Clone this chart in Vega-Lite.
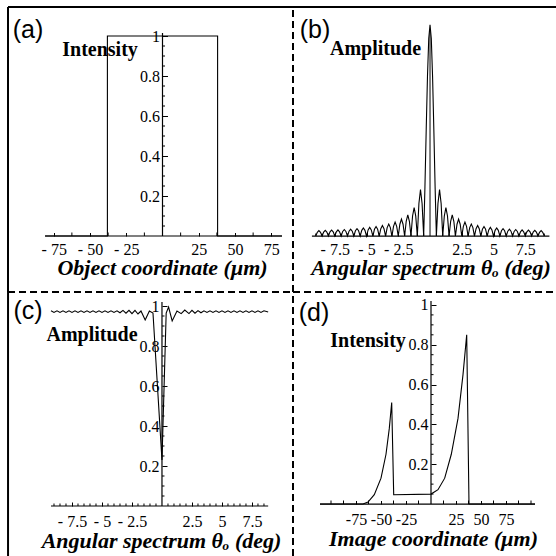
{
  "$schema": "https://vega.github.io/schema/vega-lite/v6.json",
  "padding": 0,
  "background": "white",
  "bounds": "flush",
  "spacing": 0,
  "columns": 2,
  "config": {
    "view": {"stroke": null},
    "concat": {"spacing": 0},
    "line": {"color": "black", "strokeWidth": 1.1},
    "rule": {"color": "black", "strokeWidth": 1.2},
    "tick": {"color": "black", "opacity": 1, "thickness": 1},
    "text": {"color": "black"},
    "axis": {
      "grid": false, "domain": false,
      "labelFont": "Liberation Serif", "labelFontSize": 16, "labelColor": "black",
      "labelFlush": false, "labelOverlap": false, "labelBound": false,
      "tickColor": "black", "tickWidth": 1,
      "titleFont": "Liberation Serif", "titleFontSize": 22, "titleFontWeight": "bold",
      "titleFontStyle": "italic", "titleColor": "black"
    }
  },
  "concat": [
    {
      "width": 293, "height": 292,
      "layer": [
        {
          "data": {"values": [
            {"i": 0, "x": -81, "y": 0}, {"i": 1, "x": -38, "y": 0}, {"i": 2, "x": -38, "y": 1},
            {"i": 3, "x": 38, "y": 1}, {"i": 4, "x": 38, "y": 0}, {"i": 5, "x": 82.4, "y": 0}
          ]},
          "mark": {"type": "line"},
          "encoding": {
            "order": {"field": "i", "type": "quantitative"},
            "x": {"field": "x", "type": "quantitative",
              "scale": {"domain": [-112.07, 90], "nice": false, "zero": false},
              "axis": {"values": [-75, -50, -25, 25, 50, 75],
                "labelExpr": "datum.value < 0 ? '- ' + (-datum.value) : '' + datum.value",
                "labelOverlap": false,
                "offset": -56, "tickSize": -3.5, "labelPadding": 8.5,
                "title": "Object coordinate (μm)", "titleX": 162, "titlePadding": 0}},
            "y": {"field": "y", "type": "quantitative",
              "scale": {"domain": [-0.28, 1.18], "nice": false, "zero": false},
              "axis": {"values": [0.2, 0.4, 0.6, 0.8, 1],
                "labelExpr": "datum.value == 1 ? '1' : format(datum.value, '.1f')",
                "labelOverlap": false,
                "offset": -162.5, "tickSize": -5, "labelPadding": 8, "title": null}}
          }
        },
        {"data": {"values": [{"v": -62.5}, {"v": -37.5}, {"v": -12.5}, {"v": 12.5}, {"v": 37.5}, {"v": 62.5}]},
          "mark": {"type": "tick", "orient": "vertical", "size": 3.5, "yOffset": -1.75},
          "encoding": {"x": {"field": "v", "type": "quantitative"}, "y": {"datum": 0}}},
        {"data": {"values": [{"v": 0.05}, {"v": 0.1}, {"v": 0.15}, {"v": 0.25}, {"v": 0.3}, {"v": 0.35}, {"v": 0.45}, {"v": 0.5}, {"v": 0.55}, {"v": 0.65}, {"v": 0.7}, {"v": 0.75}, {"v": 0.85}, {"v": 0.9}, {"v": 0.95}]},
          "mark": {"type": "tick", "orient": "horizontal", "size": 2.5, "xOffset": 1.25},
          "encoding": {"y": {"field": "v", "type": "quantitative"}, "x": {"datum": 0}}},
        {"data": {"values": [{}]}, "mark": {"type": "rule"},
          "encoding": {"y": {"datum": 0}, "x": {"datum": -81}, "x2": {"datum": 82.4}}},
        {"data": {"values": [{}]}, "mark": {"type": "rule"},
          "encoding": {"x": {"datum": 0}, "y": {"datum": 0}, "y2": {"datum": 1.015}}},
        {"data": {"values": [{}]}, "mark": {"type": "text", "font": "Liberation Sans", "fontSize": 25},
          "encoding": {"x": {"datum": -92.76}, "y": {"datum": 1.03}, "text": {"value": "(a)"}}},
        {"data": {"values": [{}]}, "mark": {"type": "text", "font": "Liberation Serif", "fontSize": 20, "fontWeight": "bold"},
          "encoding": {"x": {"datum": -43.1}, "y": {"datum": 0.93}, "text": {"value": "Intensity"}}},
        {"data": {"values": [{}]}, "mark": {"type": "rule", "strokeWidth": 2},
          "encoding": {"y": {"datum": 1.145}, "x": {"datum": -106.55}, "x2": {"datum": 90}}},
        {"data": {"values": [{}]}, "mark": {"type": "rule", "strokeWidth": 2},
          "encoding": {"x": {"datum": -106.55}, "y": {"datum": -0.28}, "y2": {"datum": 1.145}}},
        {"data": {"values": [{}]}, "mark": {"type": "rule", "strokeWidth": 2, "strokeDash": [7, 4]},
          "encoding": {"x": {"datum": 90}, "y": {"datum": -0.28}, "y2": {"datum": 1.145}}},
        {"data": {"values": [{}]}, "mark": {"type": "rule", "strokeWidth": 2, "strokeDash": [7, 4]},
          "encoding": {"y": {"datum": -0.28}, "x": {"datum": -106.55}, "x2": {"datum": 90}}}
      ]
    },
    {
      "width": 263, "height": 292,
      "layer": [
        {
          "data": {"values": [
            {"x": -9.0, "y": 0}, {"x": -8.875, "y": 0.018}, {"x": -8.75, "y": 0.026}, {"x": -8.625, "y": 0.018},
            {"x": -8.5, "y": 0}, {"x": -8.375, "y": 0.019}, {"x": -8.25, "y": 0.027}, {"x": -8.125, "y": 0.019},
            {"x": -8.0, "y": 0}, {"x": -7.875, "y": 0.02}, {"x": -7.75, "y": 0.028}, {"x": -7.625, "y": 0.02},
            {"x": -7.5, "y": 0}, {"x": -7.375, "y": 0.02}, {"x": -7.25, "y": 0.029}, {"x": -7.125, "y": 0.02},
            {"x": -7.0, "y": 0}, {"x": -6.875, "y": 0.022}, {"x": -6.75, "y": 0.031}, {"x": -6.625, "y": 0.022},
            {"x": -6.5, "y": 0}, {"x": -6.375, "y": 0.023}, {"x": -6.25, "y": 0.033}, {"x": -6.125, "y": 0.023},
            {"x": -6.0, "y": 0}, {"x": -5.875, "y": 0.025}, {"x": -5.75, "y": 0.035}, {"x": -5.625, "y": 0.025},
            {"x": -5.5, "y": 0}, {"x": -5.375, "y": 0.027}, {"x": -5.25, "y": 0.038}, {"x": -5.125, "y": 0.027},
            {"x": -5.0, "y": 0}, {"x": -4.875, "y": 0.029}, {"x": -4.75, "y": 0.041}, {"x": -4.625, "y": 0.029},
            {"x": -4.5, "y": 0}, {"x": -4.375, "y": 0.032}, {"x": -4.25, "y": 0.045}, {"x": -4.125, "y": 0.032},
            {"x": -4.0, "y": 0}, {"x": -3.875, "y": 0.035}, {"x": -3.75, "y": 0.05}, {"x": -3.625, "y": 0.035},
            {"x": -3.5, "y": 0}, {"x": -3.375, "y": 0.04}, {"x": -3.25, "y": 0.057}, {"x": -3.125, "y": 0.04},
            {"x": -3.0, "y": 0}, {"x": -2.875, "y": 0.046}, {"x": -2.75, "y": 0.066}, {"x": -2.625, "y": 0.046},
            {"x": -2.5, "y": 0}, {"x": -2.375, "y": 0.056}, {"x": -2.25, "y": 0.08}, {"x": -2.125, "y": 0.056},
            {"x": -2.0, "y": 0}, {"x": -1.875, "y": 0.07}, {"x": -1.75, "y": 0.1}, {"x": -1.625, "y": 0.07},
            {"x": -1.5, "y": 0}, {"x": -1.375, "y": 0.095}, {"x": -1.25, "y": 0.135}, {"x": -1.125, "y": 0.095},
            {"x": -1.0, "y": 0}, {"x": -0.875, "y": 0.154}, {"x": -0.75, "y": 0.22}, {"x": -0.625, "y": 0.154},
            {"x": -0.5, "y": 0}, {"x": -0.4, "y": 0.234}, {"x": -0.3, "y": 0.505}, {"x": -0.2, "y": 0.757},
            {"x": -0.1, "y": 0.935}, {"x": 0, "y": 1},
            {"x": 0.1, "y": 0.935}, {"x": 0.2, "y": 0.757}, {"x": 0.3, "y": 0.505}, {"x": 0.4, "y": 0.234},
            {"x": 0.5, "y": 0}, {"x": 0.625, "y": 0.154}, {"x": 0.75, "y": 0.22}, {"x": 0.875, "y": 0.154},
            {"x": 1.0, "y": 0}, {"x": 1.125, "y": 0.095}, {"x": 1.25, "y": 0.135}, {"x": 1.375, "y": 0.095},
            {"x": 1.5, "y": 0}, {"x": 1.625, "y": 0.07}, {"x": 1.75, "y": 0.1}, {"x": 1.875, "y": 0.07},
            {"x": 2.0, "y": 0}, {"x": 2.125, "y": 0.056}, {"x": 2.25, "y": 0.08}, {"x": 2.375, "y": 0.056},
            {"x": 2.5, "y": 0}, {"x": 2.625, "y": 0.046}, {"x": 2.75, "y": 0.066}, {"x": 2.875, "y": 0.046},
            {"x": 3.0, "y": 0}, {"x": 3.125, "y": 0.04}, {"x": 3.25, "y": 0.057}, {"x": 3.375, "y": 0.04},
            {"x": 3.5, "y": 0}, {"x": 3.625, "y": 0.035}, {"x": 3.75, "y": 0.05}, {"x": 3.875, "y": 0.035},
            {"x": 4.0, "y": 0}, {"x": 4.125, "y": 0.032}, {"x": 4.25, "y": 0.045}, {"x": 4.375, "y": 0.032},
            {"x": 4.5, "y": 0}, {"x": 4.625, "y": 0.029}, {"x": 4.75, "y": 0.041}, {"x": 4.875, "y": 0.029},
            {"x": 5.0, "y": 0}, {"x": 5.125, "y": 0.027}, {"x": 5.25, "y": 0.038}, {"x": 5.375, "y": 0.027},
            {"x": 5.5, "y": 0}, {"x": 5.625, "y": 0.025}, {"x": 5.75, "y": 0.035}, {"x": 5.875, "y": 0.025},
            {"x": 6.0, "y": 0}, {"x": 6.125, "y": 0.023}, {"x": 6.25, "y": 0.033}, {"x": 6.375, "y": 0.023},
            {"x": 6.5, "y": 0}, {"x": 6.625, "y": 0.022}, {"x": 6.75, "y": 0.031}, {"x": 6.875, "y": 0.022},
            {"x": 7.0, "y": 0}, {"x": 7.125, "y": 0.02}, {"x": 7.25, "y": 0.029}, {"x": 7.375, "y": 0.02},
            {"x": 7.5, "y": 0}, {"x": 7.625, "y": 0.02}, {"x": 7.75, "y": 0.028}, {"x": 7.875, "y": 0.02},
            {"x": 8.0, "y": 0}, {"x": 8.125, "y": 0.019}, {"x": 8.25, "y": 0.027}, {"x": 8.375, "y": 0.019},
            {"x": 8.5, "y": 0}, {"x": 8.625, "y": 0.018}, {"x": 8.75, "y": 0.026}, {"x": 8.875, "y": 0.018},
            {"x": 9.0, "y": 0}
          ]},
          "mark": {"type": "line"},
          "encoding": {
            "x": {"field": "x", "type": "quantitative",
              "scale": {"domain": [-10.79, 9.92], "nice": false, "zero": false},
              "axis": {"values": [-7.5, -5, -2.5, 2.5, 5, 7.5],
                "labelExpr": "datum.value < 0 ? '- ' + (-datum.value) : '' + datum.value",
                "labelOverlap": false,
                "offset": -56, "tickSize": -4, "labelPadding": 9,
                "title": "Angular spectrum θₒ (deg)", "titleX": 137.5, "titlePadding": 0}},
            "y": {"field": "y", "type": "quantitative",
              "scale": {"domain": [-0.265, 1.118], "nice": false, "zero": false},
              "axis": null}
          }
        },
        {"data": {"values": [{"v": -9}, {"v": -8.5}, {"v": -8}, {"v": -7}, {"v": -6.5}, {"v": -6}, {"v": -5.5}, {"v": -4.5}, {"v": -4}, {"v": -3.5}, {"v": -3}, {"v": -2}, {"v": -1.5}, {"v": -1}, {"v": -0.5}, {"v": 0.5}, {"v": 1}, {"v": 1.5}, {"v": 2}, {"v": 3}, {"v": 3.5}, {"v": 4}, {"v": 4.5}, {"v": 5.5}, {"v": 6}, {"v": 6.5}, {"v": 7}, {"v": 8}, {"v": 8.5}, {"v": 9}]},
          "mark": {"type": "tick", "orient": "vertical", "size": 2.5, "yOffset": -1.25},
          "encoding": {"x": {"field": "v", "type": "quantitative"}, "y": {"datum": 0}}},
        {"data": {"values": [{}]}, "mark": {"type": "rule"},
          "encoding": {"y": {"datum": 0}, "x": {"datum": -9.3}, "x2": {"datum": 9.4}}},
        {"data": {"values": [{}]}, "mark": {"type": "rule", "strokeWidth": 1},
          "encoding": {"x": {"datum": 0}, "y": {"datum": 0}, "y2": {"datum": 0.97}}},
        {"data": {"values": [{}]}, "mark": {"type": "text", "font": "Liberation Sans", "fontSize": 25},
          "encoding": {"x": {"datum": -9.06}, "y": {"datum": 0.976}, "text": {"value": "(b)"}}},
        {"data": {"values": [{}]}, "mark": {"type": "text", "font": "Liberation Serif", "fontSize": 20, "fontWeight": "bold"},
          "encoding": {"x": {"datum": -4.29}, "y": {"datum": 0.886}, "text": {"value": "Amplitude"}}},
        {"data": {"values": [{}]}, "mark": {"type": "rule", "strokeWidth": 2},
          "encoding": {"y": {"datum": 1.085}, "x": {"datum": -10.79}, "x2": {"datum": 9.92}}},
        {"data": {"values": [{}]}, "mark": {"type": "rule", "strokeWidth": 2, "strokeDash": [7, 4]},
          "encoding": {"y": {"datum": -0.265}, "x": {"datum": -10.79}, "x2": {"datum": 9.92}}}
      ]
    },
    {
      "width": 293, "height": 264,
      "layer": [
        {
          "data": {"values": [
            {"x": -9.25, "y": 0.976}, {"x": -9, "y": 0.968}, {"x": -8.75, "y": 0.976}, {"x": -8.5, "y": 0.968},
            {"x": -8.25, "y": 0.976}, {"x": -8, "y": 0.968}, {"x": -7.75, "y": 0.976}, {"x": -7.5, "y": 0.968},
            {"x": -7.25, "y": 0.976}, {"x": -7, "y": 0.968}, {"x": -6.75, "y": 0.976}, {"x": -6.5, "y": 0.968},
            {"x": -6.25, "y": 0.976}, {"x": -6, "y": 0.968}, {"x": -5.75, "y": 0.976}, {"x": -5.5, "y": 0.968},
            {"x": -5.25, "y": 0.976}, {"x": -5, "y": 0.968}, {"x": -4.75, "y": 0.976}, {"x": -4.5, "y": 0.968},
            {"x": -4.25, "y": 0.976}, {"x": -4, "y": 0.968}, {"x": -3.75, "y": 0.976}, {"x": -3.5, "y": 0.966},
            {"x": -3.25, "y": 0.978}, {"x": -3, "y": 0.964}, {"x": -2.75, "y": 0.978}, {"x": -2.5, "y": 0.962},
            {"x": -2.25, "y": 0.978}, {"x": -2, "y": 0.96}, {"x": -1.75, "y": 0.975}, {"x": -1.4, "y": 0.93},
            {"x": -1.05, "y": 0.975}, {"x": -0.75, "y": 0.965}, {"x": 0, "y": 0.23}, {"x": 0.35, "y": 0.965},
            {"x": 0.55, "y": 0.995}, {"x": 0.85, "y": 0.925}, {"x": 1.25, "y": 0.975}, {"x": 1.6, "y": 0.962},
            {"x": 1.9, "y": 0.98}, {"x": 2.25, "y": 0.962}, {"x": 2.5, "y": 0.978}, {"x": 2.75, "y": 0.964},
            {"x": 3, "y": 0.977}, {"x": 3.25, "y": 0.966}, {"x": 3.5, "y": 0.976}, {"x": 3.75, "y": 0.968},
            {"x": 4, "y": 0.976}, {"x": 4.25, "y": 0.968}, {"x": 4.5, "y": 0.976}, {"x": 4.75, "y": 0.968},
            {"x": 5, "y": 0.976}, {"x": 5.25, "y": 0.968}, {"x": 5.5, "y": 0.976}, {"x": 5.75, "y": 0.968},
            {"x": 6, "y": 0.976}, {"x": 6.25, "y": 0.968}, {"x": 6.5, "y": 0.976}, {"x": 6.75, "y": 0.968},
            {"x": 7, "y": 0.976}, {"x": 7.25, "y": 0.968}, {"x": 7.5, "y": 0.976}, {"x": 7.75, "y": 0.968},
            {"x": 8, "y": 0.976}, {"x": 8.25, "y": 0.968}, {"x": 8.5, "y": 0.976}, {"x": 8.85, "y": 0.97}
          ]},
          "mark": {"type": "line"},
          "encoding": {
            "x": {"field": "x", "type": "quantitative",
              "scale": {"domain": [-13.5, 10.92], "nice": false, "zero": false},
              "axis": {"values": [-7.5, -5, -2.5, 2.5, 5, 7.5],
                "labelExpr": "datum.value < 0 ? '- ' + (-datum.value) : '' + datum.value",
                "labelOverlap": false,
                "offset": -50, "tickSize": -4, "labelPadding": 11,
                "title": "Angular spectrum θₒ (deg)", "titleX": 161, "titlePadding": 1}},
            "y": {"field": "y", "type": "quantitative",
              "scale": {"domain": [-0.25, 1.07], "nice": false, "zero": false},
              "axis": {"values": [0.2, 0.4, 0.6, 0.8, 1],
                "labelExpr": "datum.value == 1 ? '1' : format(datum.value, '.1f')",
                "labelOverlap": false,
                "offset": -162, "tickSize": -5, "labelPadding": 8, "title": null}}
          }
        },
        {"data": {"values": [{"v": -9}, {"v": -8.5}, {"v": -8}, {"v": -7}, {"v": -6.5}, {"v": -6}, {"v": -5.5}, {"v": -4.5}, {"v": -4}, {"v": -3.5}, {"v": -3}, {"v": -2}, {"v": -1.5}, {"v": -1}, {"v": -0.5}, {"v": 0.5}, {"v": 1}, {"v": 1.5}, {"v": 2}, {"v": 3}, {"v": 3.5}, {"v": 4}, {"v": 4.5}, {"v": 5.5}, {"v": 6}, {"v": 6.5}, {"v": 7}, {"v": 8}, {"v": 8.5}]},
          "mark": {"type": "tick", "orient": "vertical", "size": 2.5, "yOffset": -1.25},
          "encoding": {"x": {"field": "v", "type": "quantitative"}, "y": {"datum": 0}}},
        {"data": {"values": [{"v": 0.05}, {"v": 0.1}, {"v": 0.15}, {"v": 0.25}, {"v": 0.3}, {"v": 0.35}, {"v": 0.45}, {"v": 0.5}, {"v": 0.55}, {"v": 0.65}, {"v": 0.7}, {"v": 0.75}, {"v": 0.85}, {"v": 0.9}, {"v": 0.95}]},
          "mark": {"type": "tick", "orient": "horizontal", "size": 2.5, "xOffset": 1.25},
          "encoding": {"y": {"field": "v", "type": "quantitative"}, "x": {"datum": 0}}},
        {"data": {"values": [{}]}, "mark": {"type": "rule"},
          "encoding": {"y": {"datum": 0}, "x": {"datum": -9.25}, "x2": {"datum": 8.85}}},
        {"data": {"values": [{}]}, "mark": {"type": "rule"},
          "encoding": {"x": {"datum": 0}, "y": {"datum": 0}, "y2": {"datum": 1.02}}},
        {"data": {"values": [{}]}, "mark": {"type": "text", "font": "Liberation Sans", "fontSize": 25},
          "encoding": {"x": {"datum": -11.17}, "y": {"datum": 0.975}, "text": {"value": "(c)"}}},
        {"data": {"values": [{}]}, "mark": {"type": "text", "font": "Liberation Serif", "fontSize": 20, "fontWeight": "bold"},
          "encoding": {"x": {"datum": -5.83}, "y": {"datum": 0.855}, "text": {"value": "Amplitude"}}},
        {"data": {"values": [{}]}, "mark": {"type": "rule", "strokeWidth": 2},
          "encoding": {"x": {"datum": -12.83}, "y": {"datum": -0.25}, "y2": {"datum": 1.07}}},
        {"data": {"values": [{}]}, "mark": {"type": "rule", "strokeWidth": 2, "strokeDash": [7, 4]},
          "encoding": {"x": {"datum": 10.92}, "y": {"datum": -0.25}, "y2": {"datum": 1.07}}}
      ]
    },
    {
      "width": 263, "height": 264,
      "layer": [
        {
          "data": {"values": [
            {"x": -111, "y": 0}, {"x": -68, "y": 0}, {"x": -63, "y": 0.01}, {"x": -56.7, "y": 0.047},
            {"x": -50, "y": 0.13}, {"x": -45, "y": 0.25}, {"x": -41.7, "y": 0.38}, {"x": -39.3, "y": 0.51},
            {"x": -37.3, "y": 0.047}, {"x": 0, "y": 0.05}, {"x": 7, "y": 0.072}, {"x": 13.7, "y": 0.13},
            {"x": 20.3, "y": 0.25}, {"x": 27, "y": 0.43}, {"x": 32, "y": 0.65}, {"x": 35.7, "y": 0.85},
            {"x": 38, "y": 0}, {"x": 104, "y": 0}
          ]},
          "mark": {"type": "line"},
          "encoding": {
            "x": {"field": "x", "type": "quantitative",
              "scale": {"domain": [-138, 125], "nice": false, "zero": false},
              "axis": {"values": [-75, -50, -25, 25, 50, 75],
                "labelExpr": "datum.value < 0 ? '-' + (-datum.value) : '' + datum.value",
                "labelOverlap": false,
                "offset": -52, "tickSize": -3.5, "labelPadding": 11,
                "title": "Image coordinate (μm)", "titleX": 140, "titlePadding": 1}},
            "y": {"field": "y", "type": "quantitative",
              "scale": {"domain": [-0.261, 1.065], "nice": false, "zero": false},
              "axis": {"values": [0.2, 0.4, 0.6, 0.8, 1],
                "labelExpr": "datum.value == 1 ? '1' : format(datum.value, '.1f')",
                "labelOverlap": false,
                "offset": -138, "tickSize": -5, "labelPadding": 8, "title": null}}
          }
        },
        {"data": {"values": [{"v": -100}, {"v": -87.5}, {"v": -62.5}, {"v": -37.5}, {"v": -12.5}, {"v": 12.5}, {"v": 37.5}, {"v": 62.5}, {"v": 87.5}, {"v": 100}]},
          "mark": {"type": "tick", "orient": "vertical", "size": 3.5, "yOffset": -1.75},
          "encoding": {"x": {"field": "v", "type": "quantitative"}, "y": {"datum": 0}}},
        {"data": {"values": [{"v": 0.05}, {"v": 0.1}, {"v": 0.15}, {"v": 0.25}, {"v": 0.3}, {"v": 0.35}, {"v": 0.45}, {"v": 0.5}, {"v": 0.55}, {"v": 0.65}, {"v": 0.7}, {"v": 0.75}, {"v": 0.85}, {"v": 0.9}, {"v": 0.95}]},
          "mark": {"type": "tick", "orient": "horizontal", "size": 2.5, "xOffset": 1.25},
          "encoding": {"y": {"field": "v", "type": "quantitative"}, "x": {"datum": 0}}},
        {"data": {"values": [{}]}, "mark": {"type": "rule"},
          "encoding": {"y": {"datum": 0}, "x": {"datum": -111}, "x2": {"datum": 104}}},
        {"data": {"values": [{}]}, "mark": {"type": "rule"},
          "encoding": {"x": {"datum": 0}, "y": {"datum": 0}, "y2": {"datum": 1.02}}},
        {"data": {"values": [{}]}, "mark": {"type": "text", "font": "Liberation Sans", "fontSize": 25},
          "encoding": {"x": {"datum": -117}, "y": {"datum": 0.959}, "text": {"value": "(d)"}}},
        {"data": {"values": [{}]}, "mark": {"type": "text", "font": "Liberation Serif", "fontSize": 20, "fontWeight": "bold"},
          "encoding": {"x": {"datum": -63}, "y": {"datum": 0.819}, "text": {"value": "Intensity"}}}
      ]
    }
  ]
}
